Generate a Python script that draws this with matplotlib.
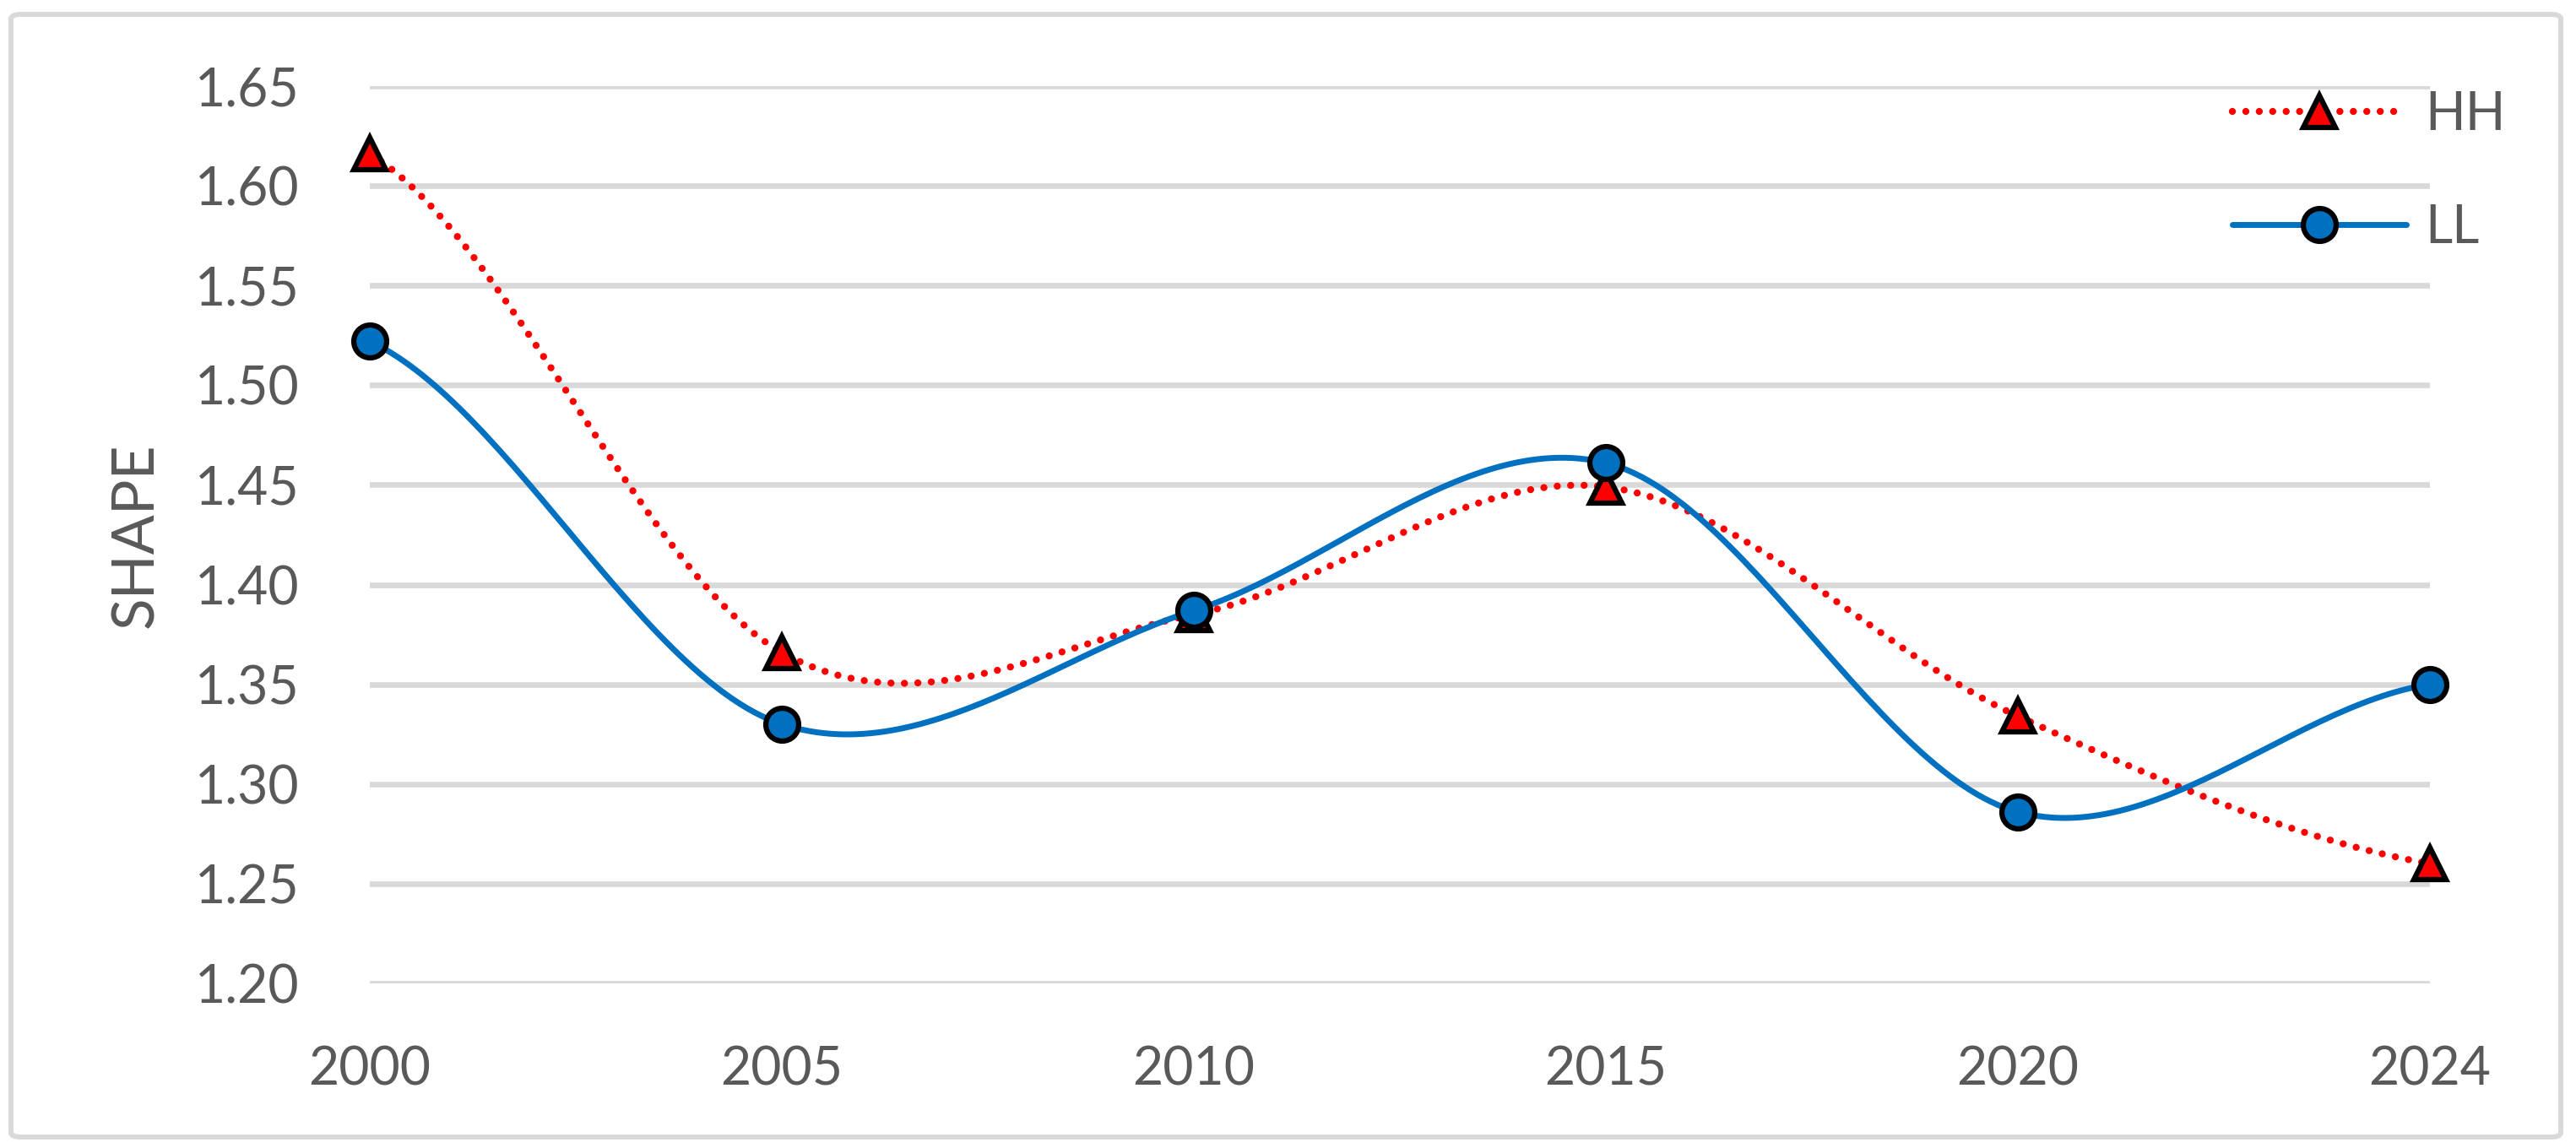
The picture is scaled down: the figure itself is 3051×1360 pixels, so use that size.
import numpy as np
import matplotlib
matplotlib.use('Agg')
import matplotlib.pyplot as plt
from matplotlib.patches import FancyBboxPatch

plt.rcParams['font.family'] = ['Lato', 'DejaVu Sans']

years = ['2000', '2005', '2010', '2015', '2020', '2024']
hh = [1.616, 1.366, 1.385, 1.449, 1.334, 1.260]
ll = [1.522, 1.330, 1.387, 1.461, 1.286, 1.350]
yticks = [1.20, 1.25, 1.30, 1.35, 1.40, 1.45, 1.50, 1.55, 1.60, 1.65]

grey = '#595959'
N = 60


def smooth(vals):
    # excel-like smoothed line: bezier with catmull-rom control points
    p = np.array(vals, dtype=float)
    n = len(p)
    xs, ys = [], []
    for i in range(n - 1):
        p0 = p[i - 1] if i > 0 else p[i]
        p3 = p[i + 2] if i + 2 < n else p[i + 1]
        c1 = p[i] + (p[i + 1] - p0) / 6
        c2 = p[i + 1] - (p3 - p[i]) / 6
        t = np.linspace(0, 1, N, endpoint=False)
        y = (1 - t)**3 * p[i] + 3 * (1 - t)**2 * t * c1 + 3 * (1 - t) * t**2 * c2 + t**3 * p[i + 1]
        xs.extend(i + t)
        ys.extend(y)
    xs.append(n - 1)
    ys.append(p[-1])
    return np.array(xs), np.array(ys)


W, H = 3051, 1360
fig = plt.figure(figsize=(W / 100, H / 100), dpi=100)
ax = fig.add_axes([438 / W, 1 - 1165 / H, (2878 - 438) / W, (1165 - 102) / H])

for y in yticks:
    ax.axhline(y, color='#D9D9D9', lw=4.8, zorder=0)

marks = [k * N for k in range(len(years))]

x1, y1 = smooth(hh)
ax.plot(x1, y1, color='#FF0000', lw=6, linestyle=(0, (0.01, 1.9)),
        dash_capstyle='round', marker='^', markevery=marks, markersize=27,
        markerfacecolor='#FF0000', markeredgecolor='black', markeredgewidth=4.5,
        label='HH', zorder=3, clip_on=False)

x2, y2 = smooth(ll)
ax.plot(x2, y2, color='#0070C0', lw=5, solid_capstyle='round',
        marker='o', markevery=marks, markersize=28,
        markerfacecolor='#0070C0', markeredgecolor='black', markeredgewidth=4.5,
        label='LL', zorder=4, clip_on=False)

ax.set_xlim(0, len(years) - 1)
ax.set_ylim(1.20, 1.65)
ax.set_xticks(range(len(years)))
ax.set_xticklabels(years)
ax.set_yticks(yticks)
ax.set_yticklabels(['%.2f' % v for v in yticks])
ax.tick_params(length=0, labelsize=45, labelcolor=grey)
ax.tick_params(axis='y', pad=60)
ax.tick_params(axis='x', pad=53)
for s in ax.spines.values():
    s.set_visible(False)

fig.text(162 / W, 1 - 634 / H, 'SHAPE', rotation=90, ha='center', va='center',
         fontsize=50, color=grey)

leg = ax.legend(loc='upper left', bbox_to_anchor=(2644 / W, 1 - 107 / H),
                bbox_transform=fig.transFigure, frameon=False, fontsize=45,
                handlelength=3.3, handletextpad=0.35, labelspacing=1.22,
                borderpad=0, borderaxespad=0, numpoints=1)
for t in leg.get_texts():
    t.set_color(grey)

border = FancyBboxPatch((13 / W, 1 - 1347 / H), (3033 - 13) / W, (1347 - 17) / H,
                        boxstyle='round,pad=0,rounding_size=0.004',
                        transform=fig.transFigure, facecolor='none',
                        edgecolor='#D9D9D9', lw=4.3)
fig.patches.append(border)

fig.savefig('out.png', dpi=100)
